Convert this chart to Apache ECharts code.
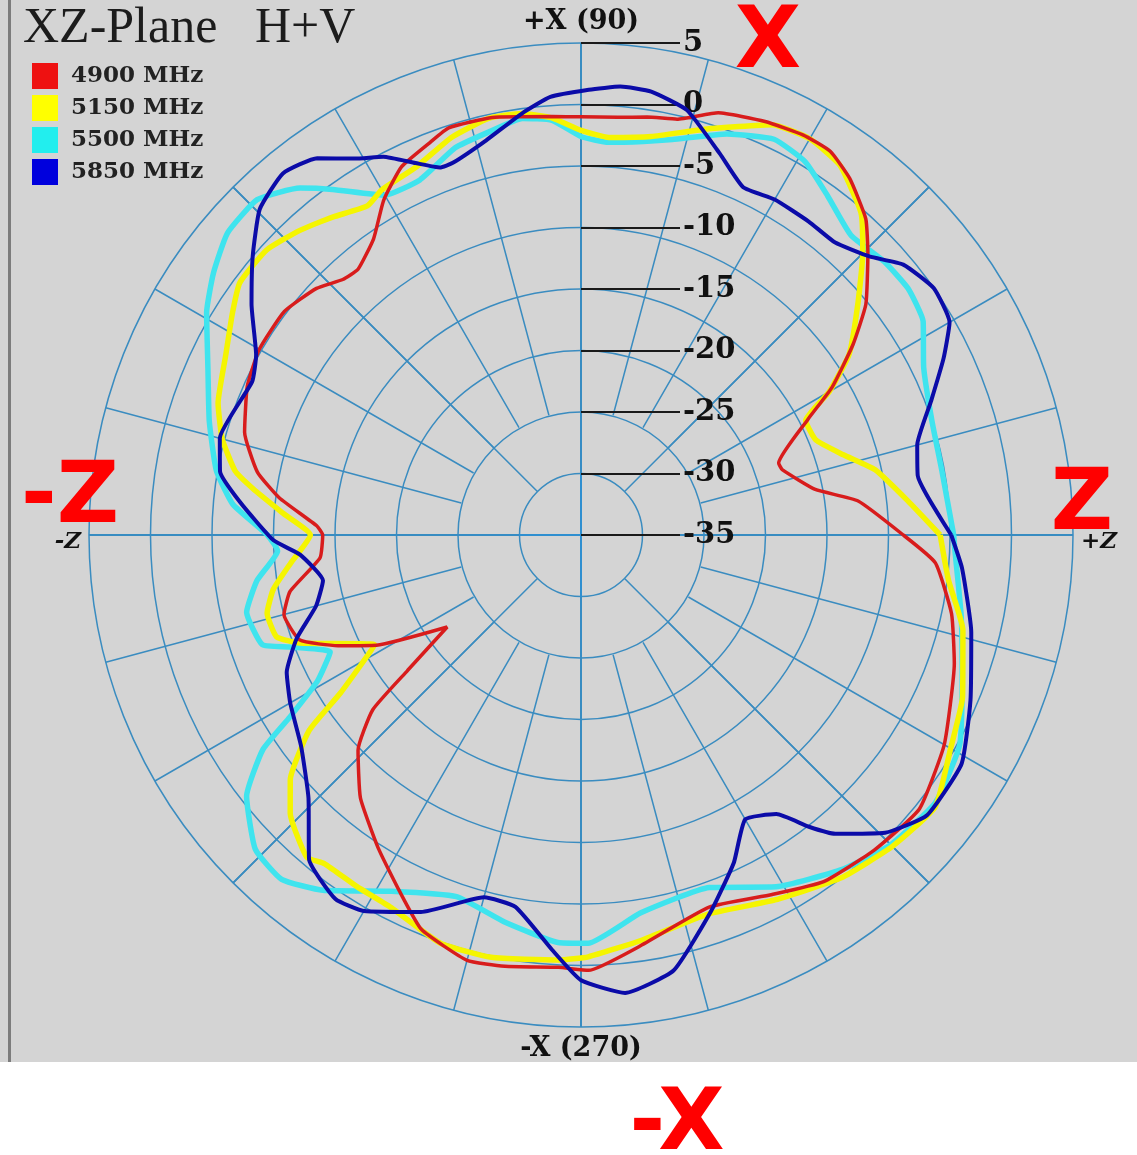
<!DOCTYPE html>
<html>
<head>
<meta charset="utf-8">
<script src="https://cdn.jsdelivr.net/npm/echarts@6/dist/echarts.min.js"></script>
<style>
html,body{margin:0;padding:0;background:#fff;}
#chart{width:1137px;height:1155px;}
</style>
</head>
<body>
<div id="chart"></div>
<script>
// ---- data: [angle in degrees (0 = +Z, 90 = +X), gain in dB] ----
const seriesNames = ['4900 MHz', '5150 MHz', '5500 MHz', '5850 MHz'];

const red4900 = [[0,-8.8],[7,-12.3],[11,-15.6],[18,-17.8],[20,-17.9],[27,-14.3],[30.5,-11.3],[35,-8.0],[39,-5.2],[44.5,-2.3],[48,-0.4],[53,1.3],[57,2.2],[61,2.2],[66,1.8],[72,1.1],[77,-0.3],[81,-0.6],[85,-0.9],[90,-1.0],[94,-0.9],[102,-0.3],[108,-0.2],[111,-0.8],[116,-1.7],[120.5,-3.4],[125,-5.6],[130,-6.8],[133,-6.6],[137,-5.6],[143,-4.8],[150,-4.8],[156,-5.3],[163,-6.4],[169,-8.2],[173,-10.3],[178,-13.5],[180,-14.0],[185,-13.7],[191,-10.9],[195,-10.0],[200.5,-10.6],[204.5,-13.3],[208.3,-16.1],[214.5,-21.8],[218,-17.1],[220,-12.9],[224,-9.8],[230,-7.1],[237,-4.7],[243,-2.5],[248,-0.4],[255,0.8],[260,0.6],[267,0.2],[271,0.4],[278,-1.2],[289,-3.0],[298,-1.9],[305,-0.6],[313,0.0],[321,0.4],[330,-0.9],[341,-2.9],[348,-4.2],[355.5,-6.1],[360,-8.8]];

const yellow5150 = [[0,-5.8],[6,-8.3],[12.5,-10.5],[17,-12.7],[22,-14.4],[27,-14.5],[30,-11.7],[34,-8.7],[40,-5.6],[45,-2.6],[49,-0.3],[55,1.7],[60,2.2],[65,1.8],[73,-0.5],[80,-2.1],[86,-2.6],[90,-2.1],[94,-1.0],[98,-0.4],[102.5,-0.3],[108,-1.0],[114,-2.2],[120,-2.6],[123,-3.1],[128,-2.2],[132.7,-1.3],[137.8,-0.5],[143.5,-0.5],[147.5,-1.4],[153,-2.6],[160,-3.6],[165,-4.8],[169.5,-6.4],[172,-8.1],[175.8,-10.7],[180,-13.0],[185.5,-11.3],[190,-9.6],[194,-8.7],[198.5,-8.9],[201,-10.5],[208,-16.0],[213.3,-11.6],[215.7,-7.8],[220.1,-4.1],[223.7,-2.3],[229.6,-0.6],[232,-1.1],[237.5,-1.1],[243,-1.0],[251,0.1],[258,0.1],[267,-0.4],[271,-0.7],[278.6,-1.7],[288.4,-2.5],[298,-1.4],[307.3,0.0],[315,0.8],[322.5,1.3],[330,-0.3],[337,-1.3],[346,-3.0],[353,-4.9],[360,-5.8]];

const cyan5500 = [[0,-4.7],[10,-5.2],[18,-5.0],[26,-4.0],[32,-2.2],[37,-1.7],[42,-1.8],[48,-2.2],[54,-0.9],[59,0.4],[64,0.8],[70,-0.3],[77,-2.0],[81,-2.6],[86,-3.0],[90,-2.6],[94,-1.2],[98,-0.8],[103,-1.4],[108,-1.9],[114.4,-3.3],[120,-3.1],[125.7,-0.4],[129,1.3],[134,2.9],[139.5,2.8],[144.5,1.7],[149.3,0.4],[156,-1.8],[163,-3.4],[170,-4.9],[175,-6.6],[180,-9.5],[183,-10.3],[188,-8.4],[193,-7.1],[199,-7.6],[201,-9.6],[205,-12.5],[209,-10.5],[212,-7.1],[214,-3.8],[218,-0.5],[224,1.8],[229,2.1],[234,0.7],[242,-2.2],[251,-3.9],[259,-2.9],[267,-1.8],[271,-1.8],[279,-3.9],[290,-4.5],[299,-2.3],[308,-0.5],[315,0.6],[323,1.1],[331,0.2],[339,-1.8],[348,-3.4],[358,-4.6],[360,-4.7]];

const blue5850 = [[0,-4.9],[10,-7.2],[15,-6.7],[21,-4.5],[26,-2.2],[30,-0.4],[35,0.0],[40,-0.8],[44,-2.4],[49,-3.5],[54,-3.5],[60,-3.5],[65,-3.8],[70,-2.0],[76,0.6],[81,1.5],[85,1.6],[89,1.2],[94,0.7],[98,-0.4],[103.5,-2.0],[109,-3.0],[111,-3.0],[114,-1.9],[117.6,-0.3],[121,0.7],[125,2.4],[129.5,3.1],[134.6,2.2],[139.7,0.0],[145,-2.3],[151,-4.8],[155,-5.5],[165,-4.6],[170,-5.2],[174.6,-7.2],[181,-10.0],[184,-12.1],[190,-13.7],[195,-12.7],[200,-10.4],[205,-8.6],[210,-7.7],[217,-6.5],[224,-4.2],[230,-0.6],[236,0.7],[240,0.3],[247,-1.7],[255,-4.5],[260,-4.3],[266,-1.2],[270,1.2],[275.5,2.4],[282,1.2],[289,-2.6],[295,-5.6],[300,-8.3],[305,-7.3],[308,-4.9],[310.4,-3.1],[315.6,-0.4],[321,1.2],[329,1.1],[337,-0.6],[346,-2.3],[355,-3.9],[360,-4.9]];

const radialMin = -35, radialMax = 5, radialStep = 5;
const angleLabels = {0: '+Z', 90: '+X (90)', 180: '-Z', 270: '-X (270)'};

// ---- styling ----
const CX = 581, CY = 535, R = 492;
const gridColor = '#3a8cc0';
const legendColors = ['#ee1111', '#ffff00', '#22eeee', '#0000dd'];
const lineColors = ['#d81c1c', '#f5f500', '#3fe4ee', '#0b0ba8'];
const lineWidths = [3.5, 5.5, 5.5, 4];
const seriesData = [red4900, yellow5150, cyan5500, blue5850];
const zOrder = [4, 3, 2, 5];

const chart = echarts.init(document.getElementById('chart'), null, {renderer: 'canvas'});

const hiddenRadius = (idx, extra) => Object.assign({
  polarIndex: idx, type: 'value', min: radialMin, max: radialMax, interval: radialStep,
  axisLine: {show: false}, axisTick: {show: false}, axisLabel: {show: false}, splitLine: {show: false}
}, extra || {});

const spokeAngle = (idx, interval, color, width) => ({
  polarIndex: idx, type: 'value', min: 0, max: 360, interval: interval,
  startAngle: 0, clockwise: false,
  axisLine: {show: false}, axisTick: {show: false}, axisLabel: {show: false},
  splitLine: {show: true, lineStyle: {color: color, width: width}}
});

const bigFont = 'bold 86px "DejaVu Sans"';

const option = {
  animation: false,
  backgroundColor: '#ffffff',
  title: {
    text: 'XZ-Plane   H+V',
    left: 18, top: -1,
    textStyle: {fontFamily: 'Liberation Serif', fontSize: 50, fontWeight: 'normal', color: '#1c1c1c'}
  },
  legend: {
    orient: 'vertical', left: 27, top: 58,
    icon: 'rect', itemWidth: 26, itemHeight: 26, itemGap: 6,
    data: seriesNames,
    textStyle: {fontFamily: 'DejaVu Serif', fontWeight: 'bold', fontSize: 23, color: '#222', padding: [0, 0, 0, 8]}
  },
  graphic: [
    {type: 'rect', z: -100, silent: true, shape: {x: 0, y: 0, width: 1137, height: 1062}, style: {fill: '#d4d4d4'}},
    {type: 'rect', z: -99, silent: true, shape: {x: 8, y: 0, width: 3, height: 1062}, style: {fill: '#7c7c7c'}},
    {type: 'text', z: 100, silent: true, style: {text: 'X', x: 768, y: 45, textAlign: 'center', textVerticalAlign: 'middle', font: bigFont, fill: '#ff0000'}},
    {type: 'text', z: 100, silent: true, style: {text: '-Z', x: 70, y: 500, textAlign: 'center', textVerticalAlign: 'middle', font: bigFont, fill: '#ff0000'}},
    {type: 'text', z: 100, silent: true, style: {text: 'Z', x: 1082, y: 507, textAlign: 'center', textVerticalAlign: 'middle', font: bigFont, fill: '#ff0000'}},
    {type: 'text', z: 100, silent: true, style: {text: '-X', x: 677, y: 1127, textAlign: 'center', textVerticalAlign: 'middle', font: bigFont, fill: '#ff0000'}}
  ],
  polar: [
    {center: [CX, CY], radius: [0, R]},
    {center: [CX, CY], radius: [62, R]},
    {center: [CX, CY], radius: [124, R]},
    {center: [CX, CY], radius: [0, R]}
  ],
  angleAxis: [
    {
      polarIndex: 0, type: 'value', min: 0, max: 360, interval: 90,
      startAngle: 0, clockwise: false,
      axisLine: {show: false}, axisTick: {show: false},
      axisLabel: {
        show: true, margin: 8,
        formatter: v => angleLabels[v] !== undefined ? (v % 180 === 0 ? '{s|' + angleLabels[v] + '}' : '{a|' + angleLabels[v] + '}') : '',
        rich: {
          a: {fontFamily: 'DejaVu Serif', fontWeight: 'bold', fontSize: 27, color: '#111'},
          s: {fontFamily: 'DejaVu Serif', fontStyle: 'italic', fontWeight: 'bold', fontSize: 23, color: '#111', padding: [14, 0, 0, 0]}
        }
      },
      splitLine: {show: true, lineStyle: {color: '#2f8fd0', width: 2}}
    },
    spokeAngle(1, 45, gridColor, 1.5),
    spokeAngle(2, 15, gridColor, 1.5),
    {
      polarIndex: 3, type: 'value', min: 0, max: 360, startAngle: 90, clockwise: false,
      axisLine: {show: false}, axisTick: {show: false}, axisLabel: {show: false}, splitLine: {show: false}
    }
  ],
  radiusAxis: [
    hiddenRadius(0, {splitLine: {show: true, lineStyle: {color: gridColor, width: 1.5}}}),
    hiddenRadius(1),
    hiddenRadius(2),
    hiddenRadius(3, {
      axisTick: {show: true, length: -99, lineStyle: {color: '#1a1a1a', width: 2}},
      axisLabel: {show: true, margin: -102, align: 'left', formatter: v => String(v),
        fontFamily: 'DejaVu Serif', fontWeight: 'bold', fontSize: 29, color: '#111'}
    })
  ],
  series: seriesNames.map((name, i) => ({
    name: name,
    type: 'line',
    coordinateSystem: 'polar',
    polarIndex: 0,
    showSymbol: false,
    symbol: 'none',
    smooth: 0.15,
    z: zOrder[i],
    itemStyle: {color: legendColors[i]},
    lineStyle: {color: lineColors[i], width: lineWidths[i]},
    data: seriesData[i].map(p => [p[1], p[0]])
  }))
};

chart.setOption(option);
</script>
</body>
</html>
